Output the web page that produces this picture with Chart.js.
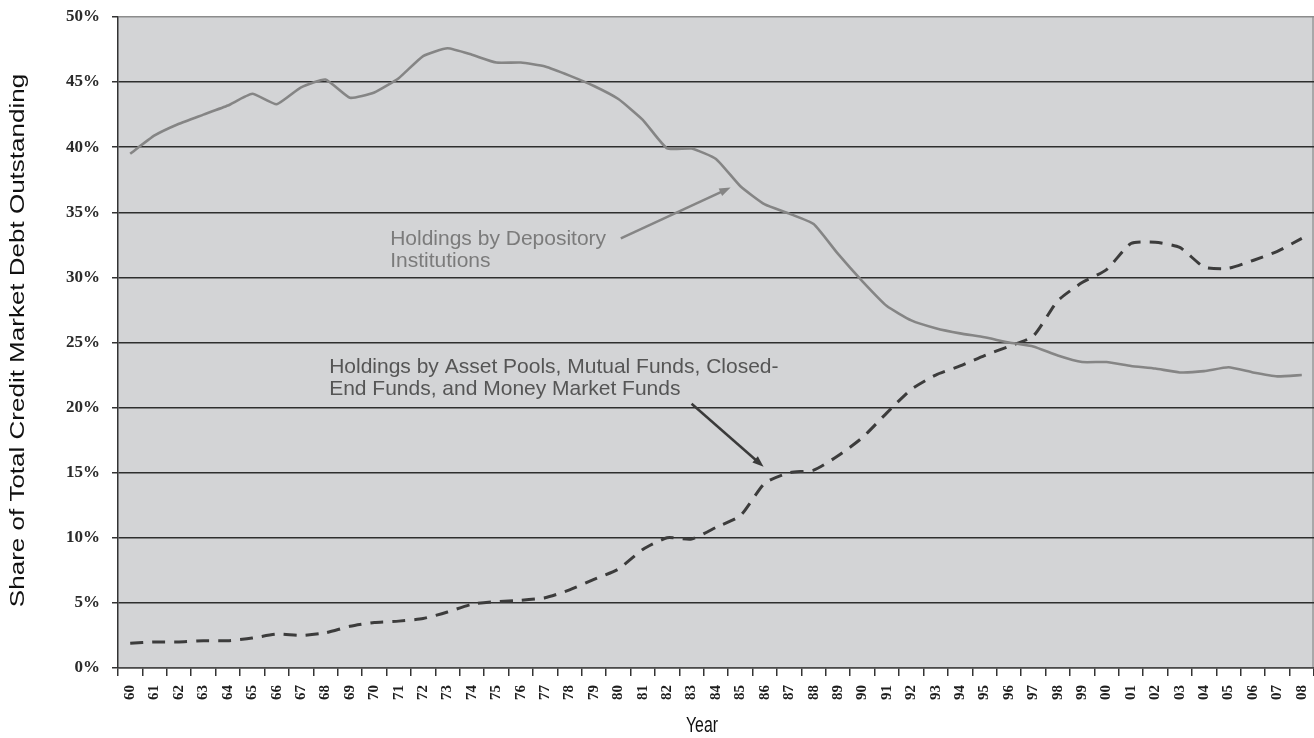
<!DOCTYPE html>
<html>
<head>
<meta charset="utf-8">
<script src="https://cdn.jsdelivr.net/npm/chart.js@4.4.1/dist/chart.umd.min.js"></script>
<style>
  html, body { margin: 0; padding: 0; background: #fff; }
  #wrap { width: 1314px; height: 738px; position: relative; }
</style>
</head>
<body>
<div id="wrap"><canvas id="debtChart"></canvas></div>
<script>
// years 1960 - 2008, shown as two digits
const years = ['60','61','62','63','64','65','66','67','68','69',
               '70','71','72','73','74','75','76','77','78','79',
               '80','81','82','83','84','85','86','87','88','89',
               '90','91','92','93','94','95','96','97','98','99',
               '00','01','02','03','04','05','06','07','08'];

// share of total credit market debt outstanding, percent
const depository = [39.5, 40.9, 41.8, 42.5, 43.2, 44.1, 43.3, 44.6, 45.2, 43.8,
                    44.2, 45.3, 47.0, 47.6, 47.1, 46.5, 46.5, 46.2, 45.5, 44.7,
                    43.7, 42.1, 39.9, 39.9, 39.1, 37.0, 35.6, 34.9, 34.1, 31.8,
                    29.7, 27.8, 26.7, 26.1, 25.7, 25.4, 25.0, 24.7, 24.0, 23.5,
                    23.5, 23.2, 23.0, 22.7, 22.8, 23.1, 22.7, 22.4, 22.5];

const assetPools = [1.9, 2.0, 2.0, 2.1, 2.1, 2.3, 2.6, 2.5, 2.7, 3.2,
                    3.5, 3.6, 3.8, 4.3, 4.9, 5.1, 5.2, 5.4, 6.0, 6.8,
                    7.6, 9.1, 10.0, 9.9, 10.8, 11.7, 14.2, 15.0, 15.2, 16.3,
                    17.7, 19.6, 21.4, 22.5, 23.2, 24.0, 24.7, 25.5, 28.2, 29.6,
                    30.6, 32.6, 32.7, 32.3, 30.8, 30.7, 31.3, 32.0, 33.0];

const yTicks = [0, 5, 10, 15, 20, 25, 30, 35, 40, 45, 50];

const yTitle = 'Share of Total Credit Market Debt Outstanding';
const xTitle = 'Year';
const depLabel = ['Holdings by Depository', 'Institutions'];
const poolLabel = ['Holdings by Asset Pools, Mutual Funds, Closed-', 'End Funds, and Money Market Funds'];

// callouts, placed in data space (category index, percent)
const notes = [
    { lines: depLabel, at: [10.65, 32.9], from: [20.1, 33.0], to: [24.6, 36.9], color: '#7b7b7b', arrow: '#858585' },
    { lines: poolLabel, at: [8.15, 23.1], from: [23.0, 20.3], to: [25.95, 15.45], color: '#555555', arrow: '#3a3a3a' }
];

const plotBackground = {
    id: 'plotBackground',
    beforeDraw(chart) {
        const {ctx, chartArea: a} = chart;
        ctx.save();
        ctx.fillStyle = '#fff';
        ctx.fillRect(0, 0, chart.width, chart.height);
        ctx.fillStyle = '#d3d4d6';
        ctx.fillRect(a.left, a.top, a.right - a.left, a.bottom - a.top);
        ctx.strokeStyle = '#9a9a9a';
        ctx.lineWidth = 1.5;
        ctx.beginPath();
        ctx.moveTo(a.right - 1, a.top);
        ctx.lineTo(a.right - 1, a.bottom);
        ctx.stroke();
        ctx.restore();
    }
};

// axis titles: the source uses a condensed face, so the text is scaled by hand
const axisTitles = {
    id: 'axisTitles',
    afterDraw(chart) {
        const {ctx, chartArea: a} = chart;
        ctx.save();
        ctx.fillStyle = '#111';
        ctx.textAlign = 'center';
        ctx.textBaseline = 'middle';
        ctx.font = '20px "Liberation Sans", Arial, sans-serif';
        ctx.translate(18, (a.top + a.bottom) / 2 - 2);
        ctx.rotate(-Math.PI / 2);
        ctx.scale(1.3, 1);
        ctx.fillText(yTitle, 0, 0);
        ctx.restore();

        ctx.save();
        ctx.fillStyle = '#111';
        ctx.textAlign = 'center';
        ctx.textBaseline = 'middle';
        ctx.font = '22px "Liberation Sans", Arial, sans-serif';
        ctx.translate((a.left + a.right) / 2 - 14, chart.height - 12);
        ctx.scale(0.72, 1);
        ctx.fillText(xTitle, 0, 0);
        ctx.restore();
    }
};

const callouts = {
    id: 'callouts',
    afterDatasetsDraw(chart) {
        const {ctx} = chart;
        const x = chart.scales.x, y = chart.scales.y;
        ctx.save();
        notes.forEach(n => {
            ctx.font = '21px "Liberation Sans", Arial, sans-serif';
            ctx.fillStyle = n.color;
            ctx.textBaseline = 'middle';
            ctx.textAlign = 'left';
            n.lines.forEach((t, i) => {
                ctx.fillText(t, x.getPixelForValue(n.at[0]), y.getPixelForValue(n.at[1]) + i * 22);
            });
            const x1 = x.getPixelForValue(n.from[0]), y1 = y.getPixelForValue(n.from[1]);
            const x2 = x.getPixelForValue(n.to[0]), y2 = y.getPixelForValue(n.to[1]);
            const ang = Math.atan2(y2 - y1, x2 - x1);
            const head = 12;
            ctx.strokeStyle = n.arrow;
            ctx.fillStyle = n.arrow;
            ctx.lineWidth = 2.5;
            ctx.beginPath();
            ctx.moveTo(x1, y1);
            ctx.lineTo(x2 - Math.cos(ang) * head * 0.8, y2 - Math.sin(ang) * head * 0.8);
            ctx.stroke();
            ctx.beginPath();
            ctx.moveTo(x2, y2);
            ctx.lineTo(x2 - head * Math.cos(ang - 0.35), y2 - head * Math.sin(ang - 0.35));
            ctx.lineTo(x2 - head * Math.cos(ang + 0.35), y2 - head * Math.sin(ang + 0.35));
            ctx.closePath();
            ctx.fill();
        });
        ctx.restore();
    }
};

const ctx = document.getElementById('debtChart').getContext('2d');
const chart = new Chart(ctx, {
    type: 'line',
    data: {
        labels: years,
        datasets: [{
            label: 'Holdings by Depository Institutions',
            data: depository,
            borderColor: '#858585',
            borderWidth: 2.6,
            pointRadius: 0,
            tension: 0.15,
            fill: false
        }, {
            label: 'Holdings by Asset Pools, Mutual Funds, Closed-End Funds, and Money Market Funds',
            data: assetPools,
            borderColor: '#3c3c3c',
            borderWidth: 3,
            borderDash: [13, 9],
            pointRadius: 0,
            tension: 0.2,
            fill: false
        }]
    },
    options: {
        responsive: true,
        maintainAspectRatio: false,
        animation: false,
        layout: { padding: { top: 17, right: 0, bottom: 0, left: 0 } },
        plugins: {
            legend: { display: false },
            tooltip: { enabled: false }
        },
        scales: {
            x: {
                offset: true,
                grid: { display: true, drawOnChartArea: false, drawTicks: true, tickLength: 8, color: '#333', lineWidth: 1.5, offset: true },
                border: { color: '#4a4a4a', width: 1.5 },
                ticks: {
                    autoSkip: false,
                    minRotation: 90,
                    maxRotation: 90,
                    padding: 9,
                    color: '#1e1e1e',
                    font: { family: '"Liberation Serif", "Times New Roman", serif', weight: 'bold', size: 15 }
                },
                afterFit(s) { s.height = 70; s.paddingLeft = 0; s.paddingRight = 0; }
            },
            y: {
                min: 0,
                max: 50,
                afterBuildTicks(s) { s.ticks = yTicks.map(v => ({ value: v })); },
                grid: {
                    color: c => (c.tick && c.tick.value === 50) ? '#8c8c8c' : '#2e2e2e',
                    lineWidth: 1.5,
                    tickLength: 6,
                    tickColor: '#333'
                },
                border: { color: '#333', width: 1.5 },
                ticks: {
                    padding: 12,
                    color: '#2a2a2a',
                    font: { family: '"Liberation Serif", "Times New Roman", serif', weight: 'bold', size: 17 },
                    callback: v => v + '%'
                },
                afterFit(s) { s.width = 118; s.paddingTop = 0; s.paddingBottom = 0; }
            }
        }
    },
    plugins: [plotBackground, axisTitles, callouts]
});
</script>
</body>
</html>
